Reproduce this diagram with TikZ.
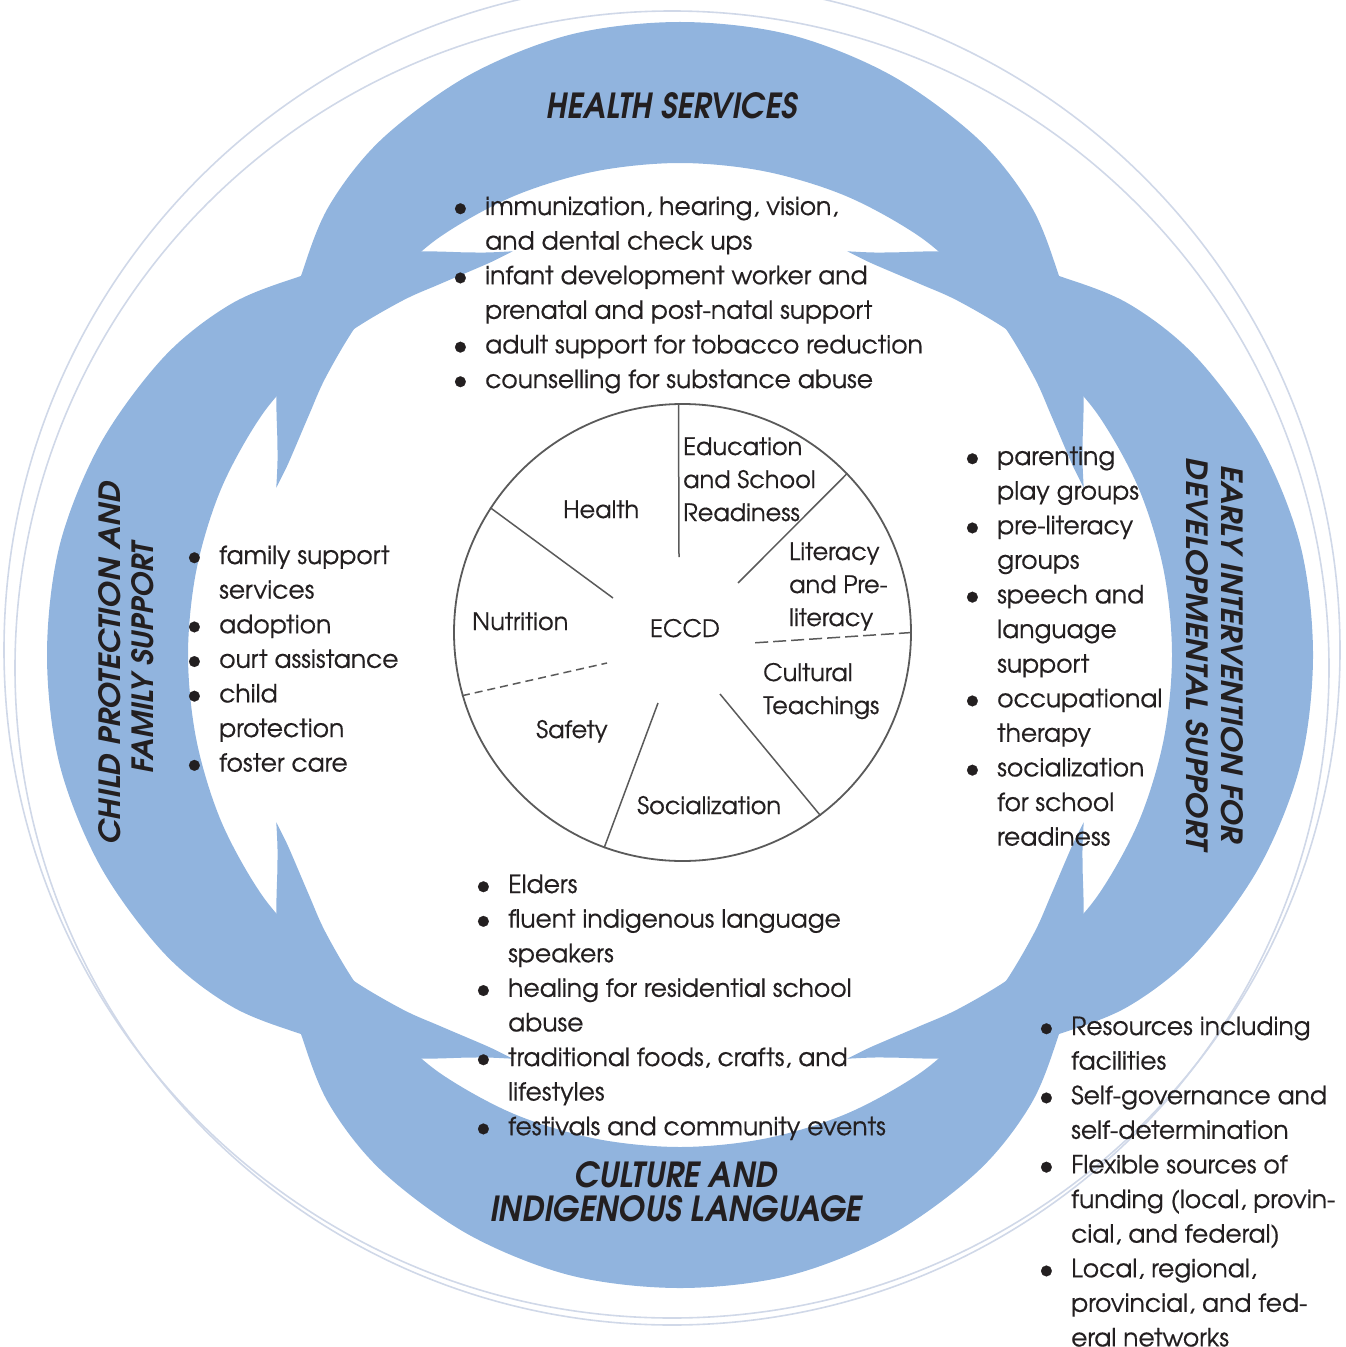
\documentclass[tikz,border=0pt]{standalone}
\usepackage{fontspec}
\usepackage{graphicx}
\setmainfont[FakeBold=0.5]{TeX Gyre Adventor}
\newfontfamily\titlefont{TeX Gyre Adventor}
\definecolor{bandblue}{RGB}{145,180,222}
\definecolor{ink}{RGB}{35,31,32}
\definecolor{ringgray}{RGB}{208,216,232}
\definecolor{spokegray}{RGB}{90,90,90}
\newcommand\bu{\llap{\raisebox{-0.05em}{\scalebox{1.2}{\textbullet}}\hspace{17bp}}}
\newcommand\band[1]{%
\fill[bandblue] plot[smooth,tension=0.55] coordinates {(#1-67.5:437) (#1-64.5:446) (#1-62:456) (#1-57:481) (#1-52:505) (#1-45:536) (#1-38:570) (#1-30:596) (#1-20:617) (#1-10:630) (#1:633) (#1+10:630) (#1+20:617) (#1+30:596) (#1+38:570) (#1+45:536) (#1+52:505) (#1+57:481) (#1+62:456) (#1+64.5:446) (#1+67.5:437)}
-- plot[smooth,tension=0.55] coordinates {(#1+67.5:437) (#1+64.5:436) (#1+62:437) (#1+57:442) (#1+52:450) (#1+45:461) (#1+38:472) (#1+30:482) (#1+20:488) (#1+10:491) (#1:492) (#1-10:491) (#1-20:488) (#1-30:482) (#1-38:472) (#1-45:461) (#1-52:450) (#1-57:442) (#1-62:437) (#1-64.5:436) (#1-67.5:437)} -- cycle;}
\newcommand\blist[4]{\foreach \t [count=\i] in {#4}{\node[txt,anchor=base west] (#1\i) at (#2,{#3+34.6*(\i-1)}) {\t};}}
\begin{document}
\begin{tikzpicture}[x=1bp,y=-1bp,
  txt/.style={inner sep=0pt, text=ink, font=\fontsize{25bp}{30bp}\selectfont},
  lab/.style={inner sep=0pt, text=ink, font=\fontsize{24bp}{30bp}\selectfont, anchor=base west},
  ttl/.style={inner sep=0pt, text=ink},
  spk/.style={draw=spokegray, line width=1.5bp},
  faint/.style={draw=ringgray, line width=1.6bp}]
\useasboundingbox (0,0) rectangle (1346,1347);
% faint outer rings
\draw[faint] (672,668) circle[radius=657];
\draw[faint] (672,650) circle[radius=668];
% blue crescents
\begin{scope}[shift={(680,655)}]
\foreach \a in {0,90,180,270} {\band{\a}}
\end{scope}
% central ECCD circle
\node[circle, draw=spokegray, line width=1.8bp, minimum size=457bp, inner sep=0pt] (ring) at (682.5,632.5) {};
\coordinate (s1) at (679,557);
\coordinate (s2) at (738,583);
\coordinate (s3) at (752,643);
\coordinate (s4) at (720,694);
\coordinate (s5) at (658,703);
\coordinate (s6) at (607,663);
\coordinate (s7) at (613,598);
\draw[spk] (ring.91) -- (s1);
\draw[spk] (ring.44) -- (s2);
\draw[spk, dash pattern=on 13bp off 5bp] (ring.0) -- (s3);
\draw[spk] (ring.307) -- (s4);
\draw[spk] (ring.250) -- (s5);
\draw[spk, dash pattern=on 8bp off 5bp] (ring.196) -- (s6);
\draw[spk] (ring.147) -- (s7);
% circle labels
\node[lab] (ed1) at (683,455) {Education};
\node[lab] (ed2) at (683,488) {and School};
\node[lab] (ed3) at (683,521) {Readiness};
\node[lab] (li1) at (789,560) {Literacy};
\node[lab] (li2) at (789,593) {and Pre-};
\node[lab] (li3) at (789,626) {literacy};
\node[lab] (cu1) at (763,681) {Cultural};
\node[lab] (cu2) at (763,714) {Teachings};
\node[lab] (he) at (563,518) {Health};
\node[lab] (nu) at (472,630) {Nutrition};
\node[lab, anchor=base] (ec) at (685,637) {ECCD};
\node[lab] (sa) at (536,738) {Safety};
\node[lab] (so) at (637,814) {Socialization};
% titles
\node[ttl] (th) at (672,106) {\resizebox{250bp}{26bp}{\titlefont\bfseries\itshape HEALTH SERVICES}};
\node[ttl] (tb1) at (676,1175) {\resizebox{203bp}{26bp}{\titlefont\bfseries\itshape CULTURE AND}};
\node[ttl] (tb2) at (676,1209) {\resizebox{372bp}{26bp}{\titlefont\bfseries\itshape INDIGENOUS LANGUAGE}};
\node[ttl, rotate=90] (tc1) at (110,663) {\resizebox{363bp}{22bp}{\titlefont\bfseries\itshape CHILD PROTECTION AND}};
\node[ttl, rotate=90] (tc2) at (143,658) {\resizebox{230bp}{22bp}{\titlefont\bfseries\itshape FAMILY SUPPORT}};
\node[ttl, rotate=-90] (te1) at (1232,654) {\resizebox{378bp}{22bp}{\titlefont\bfseries\itshape EARLY INTERVENTION FOR}};
\node[ttl, rotate=-90] (te2) at (1197,654) {\resizebox{392bp}{22bp}{\titlefont\bfseries\itshape DEVELOPMENTAL SUPPORT}};
% bullet lists
\blist{hs}{485}{215}{{\bu immunization, hearing, vision,},{and dental check ups},{\bu infant development worker and},{prenatal and post-natal support},{\bu adult support for tobacco reduction},{\bu counselling for substance abuse}}
\blist{cp}{219}{564}{{\bu family support},{services},{\bu adoption},{\bu ourt assistance},{\bu child},{protection},{\bu foster care}}
\blist{ei}{997}{465}{{\bu parenting},{play groups},{\bu pre-literacy},{groups},{\bu speech and},{language},{support},{\bu occupational},{therapy},{\bu socialization},{for school},{readiness}}
\blist{cl}{508}{893}{{\bu Elders},{\bu fluent indigenous language},{speakers},{\bu healing for residential school},{abuse},{\bu traditional foods, crafts, and},{lifestyles},{\bu festivals and community events}}
\blist{rs}{1071}{1035}{{\bu Resources including},{facilities},{\bu Self-governance and},{self-determination},{\bu Flexible sources of},{funding (local, provin-},{cial, and federal)},{\bu Local, regional,},{provincial, and fed-},{eral networks}}
\end{tikzpicture}
\end{document}
